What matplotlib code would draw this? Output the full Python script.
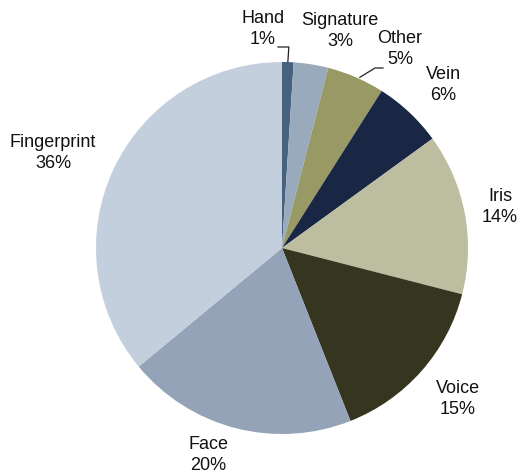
import numpy as np
import matplotlib
matplotlib.use("Agg")
import matplotlib.pyplot as plt

plt.rcParams['font.family'] = ['Liberation Sans', 'DejaVu Sans']

labels = ['Hand', 'Signature', 'Other', 'Vein', 'Iris', 'Voice', 'Face', 'Fingerprint']
shares = [1, 3, 5, 6, 14, 15, 20, 36]
colors = ['#46627f', '#9aaabd', '#999966', '#1a2744', '#bdbda0', '#363620', '#94a3b7', '#c4cfde']

# label text centres in pixel coords (from top-left)
label_pos = [(263, 29), (340, 31), (400, 49), (443, 85), (500, 207), (458, 399), (208, 455), (53, 153)]
leaders = {'Hand': (278, 47), 'Other': (383, 68)}

W, H = 520, 474
cx, cy, r = 282, 248, 186

fig = plt.figure(figsize=(W / 100, H / 100), dpi=100)
ax = fig.add_axes([0, 0, 1, 1])

wedges, _ = ax.pie(shares, colors=colors, startangle=90, counterclock=False,
                   center=(cx, H - cy), radius=r, frame=True)
ax.set_xlim(0, W)
ax.set_ylim(0, H)
ax.set_aspect('equal')
ax.axis('off')

total = sum(shares)
cum = 0
for name, v, (lx, ly) in zip(labels, shares, label_pos):
    mid = 90 - 360 * (cum + v / 2) / total
    cum += v
    ax.text(lx, H - ly, f'{name}\n{round(100 * v / total)}%', ha='center', va='center',
            fontsize=13, linespacing=1.35, color='#111111')
    if name in leaders:
        ex = cx + r * np.cos(np.radians(mid))
        ey = H - cy + r * np.sin(np.radians(mid))
        sx, sy = leaders[name]
        if name == 'Hand':
            pts = [(sx, H - sy), (ex + 1, H - sy), (ex, ey)]
        else:
            pts = [(sx, H - sy), (sx - 8, H - sy), (ex + 4, ey)]
        xs, ys = zip(*pts)
        ax.plot(xs, ys, color='#222222', lw=0.9)

fig.savefig('out.png', dpi=100)
